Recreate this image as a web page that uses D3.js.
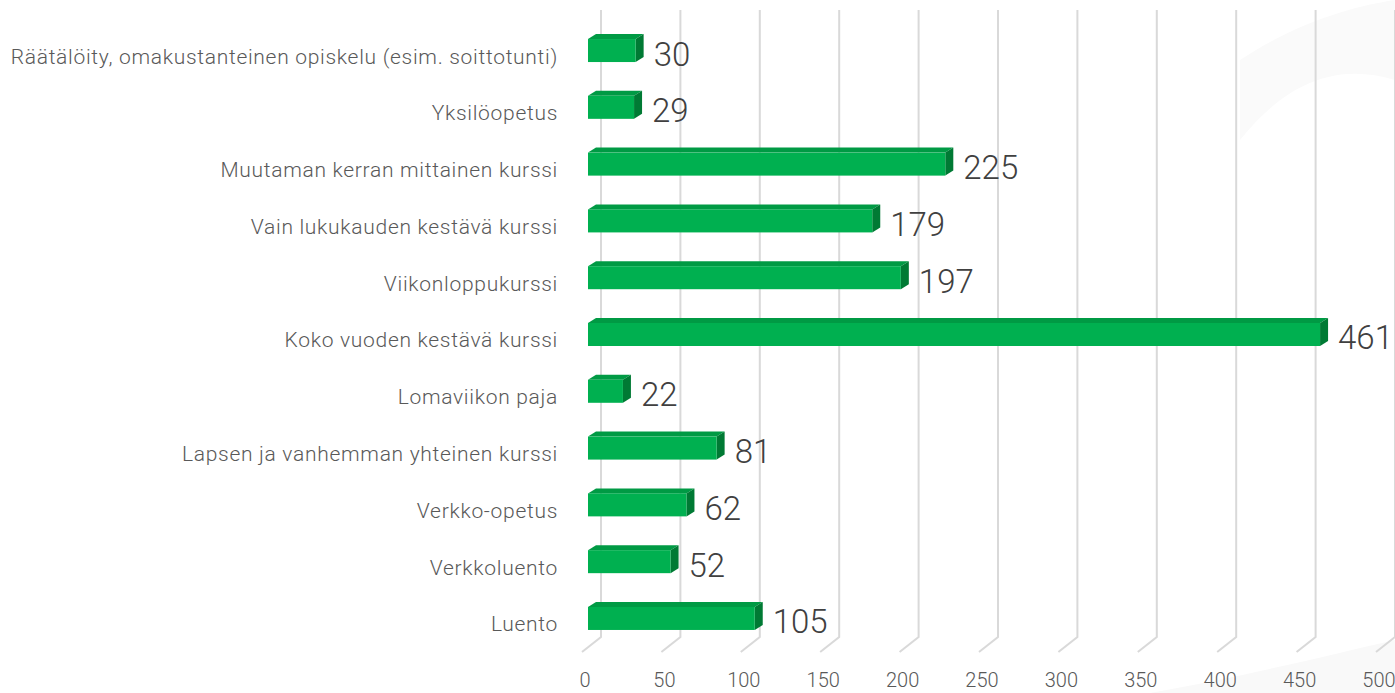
<!DOCTYPE html>
<html>
<head>
<meta charset="utf-8">
<script src="https://cdn.jsdelivr.net/npm/d3@7"></script>
<style>
    body { margin: 0; background: #fff; }
    svg text { font-family: Roboto, "Open Sans", sans-serif; font-weight: 300; }
</style>
</head>
<body>
<div id="chart"></div>
<script>
const categories = [
    'Räätälöity, omakustanteinen opiskelu (esim. soittotunti)',
    'Yksilöopetus',
    'Muutaman kerran mittainen kurssi',
    'Vain lukukauden kestävä kurssi',
    'Viikonloppukurssi',
    'Koko vuoden kestävä kurssi',
    'Lomaviikon paja',
    'Lapsen ja vanhemman yhteinen kurssi',
    'Verkko-opetus',
    'Verkkoluento',
    'Luento'
];
const values = [30, 29, 225, 179, 197, 461, 22, 81, 62, 52, 105];
const ticks = [0, 50, 100, 150, 200, 250, 300, 350, 400, 450, 500];

const width = 1395;
const height = 693;

// back wall / floor geometry
const wallTop = 10;
const wallBottom = 637;
const floorDx = -19, floorDy = 15;
// bar depth
const depthDx = 8, depthDy = -5;
const barH = 23;

const svg = d3.select('#chart')
    .append('svg')
    .attr('width', width)
    .attr('height', height);

// faint background swoosh
svg.append('path')
    .attr('d', 'M1240,60 C1300,20 1360,5 1395,0 L1395,80 C1330,60 1280,90 1240,140 Z')
    .attr('fill', '#fafafa');
svg.append('path')
    .attr('d', 'M1150,693 C1250,675 1330,655 1395,640 L1395,693 Z')
    .attr('fill', '#f9f9f9');

// back wall scale
const x = d3.scaleLinear()
    .domain([0, 500])
    .range([601, 1395]);

// front face scale
const xf = d3.scaleLinear()
    .domain([0, 500])
    .range([588, 1382]);

const y = d3.scaleBand()
    .domain(categories)
    .range([22, 647])
    .paddingInner(0.595)
    .paddingOuter(0.3);

// gridlines
svg.append('g')
    .selectAll('path')
    .data(ticks)
    .enter().append('path')
    .attr('d', d => `M${x(d)},${wallTop}V${wallBottom}l${floorDx},${floorDy}`)
    .attr('fill', 'none')
    .attr('stroke', '#d9d9d9')
    .attr('stroke-width', 2);

// axis labels
svg.append('g')
    .selectAll('text')
    .data(ticks)
    .enter().append('text')
    .attr('x', d => x(d) - 16)
    .attr('y', 687)
    .attr('text-anchor', 'middle')
    .attr('fill', '#595959')
    .style('font-size', '20px')
    .text(d => d);

const rows = categories.map((c, i) => ({name: c, value: values[i]}));

const bar = svg.append('g')
    .selectAll('g')
    .data(rows)
    .enter().append('g');

// top face
bar.append('path')
    .attr('d', d => {
        const top = y(d.name);
        const x0 = xf(0), x1 = xf(d.value);
        return `M${x0},${top}L${x0 + depthDx},${top + depthDy}L${x1 + depthDx},${top + depthDy}L${x1},${top}Z`;
    })
    .attr('fill', '#009a44');

// side face
bar.append('path')
    .attr('d', d => {
        const top = y(d.name);
        const x1 = xf(d.value);
        return `M${x1},${top}L${x1 + depthDx},${top + depthDy}L${x1 + depthDx},${top + depthDy + barH}L${x1},${top + barH}Z`;
    })
    .attr('fill', '#007a34');

// front face
bar.append('rect')
    .attr('x', xf(0))
    .attr('y', d => y(d.name))
    .attr('width', d => xf(d.value) - xf(0))
    .attr('height', barH)
    .attr('fill', '#00b050');

// value labels
bar.append('text')
    .attr('x', d => xf(d.value) + depthDx + 10)
    .attr('y', d => y(d.name) + barH / 2 + 15)
    .attr('fill', '#404040')
    .style('font-size', '33px')
    .text(d => d.value);

// category labels
bar.append('text')
    .attr('x', 558)
    .attr('y', d => y(d.name) + barH / 2 + 13)
    .attr('text-anchor', 'end')
    .attr('fill', '#595959')
    .style('font-size', '21px')
    .style('letter-spacing', '0.7px')
    .text(d => d.name);
</script>
</body>
</html>
